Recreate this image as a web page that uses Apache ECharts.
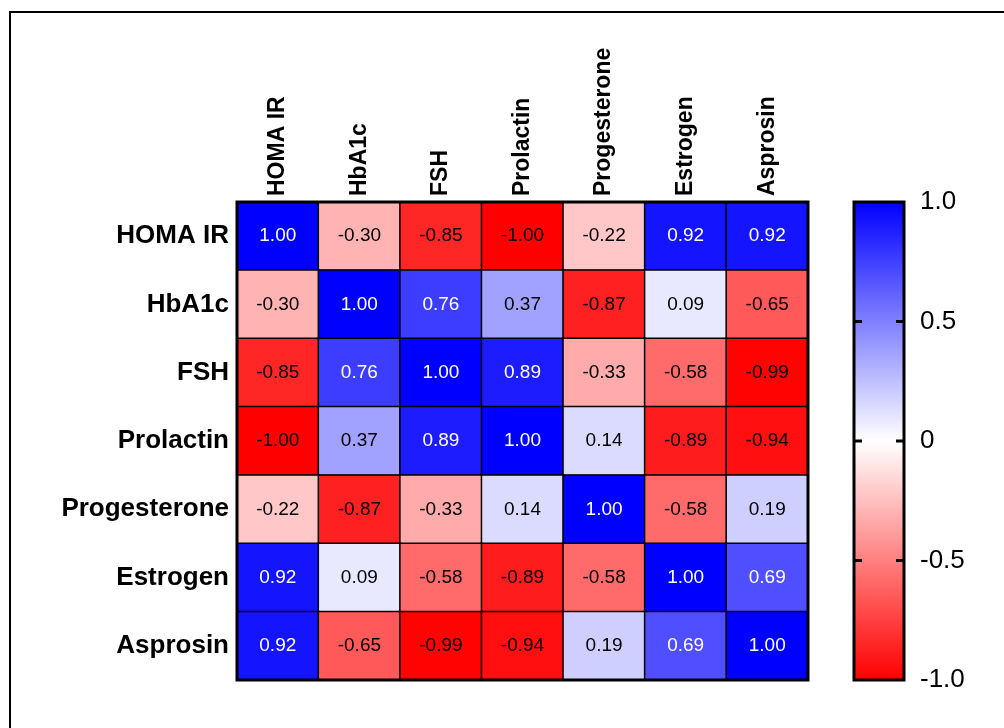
<!DOCTYPE html>
<html>
<head>
<meta charset="utf-8">
<script src="https://cdn.jsdelivr.net/npm/echarts@6/dist/echarts.min.js"></script>
<style>html,body{margin:0;padding:0;background:#fff}#c{width:1004px;height:728px}</style>
</head>
<body>
<div id="c"></div>
<script>
var categories = ['HOMA IR','HbA1c','FSH','Prolactin','Progesterone','Estrogen','Asprosin'];
var rowHOMA = [1.00,-0.30,-0.85,-1.00,-0.22,0.92,0.92];
var rowHbA1c = [-0.30,1.00,0.76,0.37,-0.87,0.09,-0.65];
var rowFSH = [-0.85,0.76,1.00,0.89,-0.33,-0.58,-0.99];
var rowProlactin = [-1.00,0.37,0.89,1.00,0.14,-0.89,-0.94];
var rowProgesterone = [-0.22,-0.87,-0.33,0.14,1.00,-0.58,0.19];
var rowEstrogen = [0.92,0.09,-0.58,-0.89,-0.58,1.00,0.69];
var rowAsprosin = [0.92,-0.65,-0.99,-0.94,0.19,0.69,1.00];
var colorbarTicks = ['-1.0','-0.5','0','0.5','1.0'];
var innerTickValues = [-0.5, 0, 0.5];

var rows = [rowHOMA,rowHbA1c,rowFSH,rowProlactin,rowProgesterone,rowEstrogen,rowAsprosin];
var data = [];
rows.forEach(function(r, i){ r.forEach(function(v, j){ data.push([j, i, v]); }); });
var tickMap = {'-1':colorbarTicks[0],'-0.5':colorbarTicks[1],'0':colorbarTicks[2],'0.5':colorbarTicks[3],'1':colorbarTicks[4]};
var FONT = 'Liberation Sans, Arial, sans-serif';

var chart = echarts.init(document.getElementById('c'));
chart.setOption({
  animation: false,
  backgroundColor: '#fff',
  graphic: [{type:'rect', shape:{x:10,y:12,width:1100,height:800}, style:{fill:'none',stroke:'#000',lineWidth:2}, z:-10}],
  grid: [
    {left:237, top:202, width:571, height:478, show:true, borderColor:'#000', borderWidth:3, backgroundColor:'transparent', z:10},
    {left:854, top:202, width:50, height:478, show:true, borderColor:'#000', borderWidth:3, backgroundColor:'transparent', z:10}
  ],
  xAxis: [
    {type:'category', data:categories, gridIndex:0, position:'top',
     axisLine:{show:false}, axisTick:{show:false}, splitLine:{show:false},
     axisLabel:{rotate:-90, margin:6, color:'#000', fontFamily:FONT, fontWeight:'bold', fontSize:23}},
    {type:'value', gridIndex:1, min:0, max:1, show:false}
  ],
  yAxis: [
    {type:'category', data:categories, gridIndex:0, inverse:true,
     axisLine:{show:false}, axisTick:{show:false}, splitLine:{show:false},
     axisLabel:{margin:8, color:'#000', fontFamily:FONT, fontWeight:'bold', fontSize:26}},
    {type:'value', gridIndex:1, min:-1, max:1, interval:0.5, position:'right',
     axisLine:{show:false}, splitLine:{show:false}, axisTick:{show:false},
     axisLabel:{margin:16, align:'left', color:'#000', fontFamily:FONT, fontSize:26,
       formatter:function(v){ return tickMap[String(v)]; }}}
  ],
  visualMap: {show:false, min:-1, max:1, seriesIndex:0, dimension:2,
    inRange:{color:['#ff0000','#ffffff','#0000ff']}},
  series: [
    {type:'heatmap', xAxisIndex:0, yAxisIndex:0, data:data,
     itemStyle:{borderColor:'#000', borderWidth:1.5},
     label:{show:true,
       formatter:function(p){ var v = p.value[2]; var s = v.toFixed(2);
         return v > 0.5 ? '{w|' + s + '}' : '{b|' + s + '}'; },
       rich:{w:{color:'#fff', fontFamily:FONT, fontSize:19}, b:{color:'#000', fontFamily:FONT, fontSize:19}}},
     emphasis:{disabled:true}},
    {type:'custom', xAxisIndex:1, yAxisIndex:1, data:[[0,-1,1]], z:5,
     renderItem:function(params, api){
       var tl = api.coord([0, api.value(2)]);
       var br = api.coord([1, api.value(1)]);
       var children = [{type:'rect', shape:{x:tl[0], y:tl[1], width:br[0]-tl[0], height:br[1]-tl[1]},
         style:{fill:new echarts.graphic.LinearGradient(0,0,0,1,[
           {offset:0,color:'#0000ff'},{offset:0.5,color:'#ffffff'},{offset:1,color:'#ff0000'}])}}];
       innerTickValues.forEach(function(t){
         var y = api.coord([0, t])[1];
         children.push({type:'line', shape:{x1:tl[0], y1:y, x2:tl[0]+8, y2:y}, style:{stroke:'#000', lineWidth:3}});
         children.push({type:'line', shape:{x1:br[0]-8, y1:y, x2:br[0], y2:y}, style:{stroke:'#000', lineWidth:3}});
       });
       return {type:'group', children:children};
     }}
  ]
});
</script>
</body>
</html>
